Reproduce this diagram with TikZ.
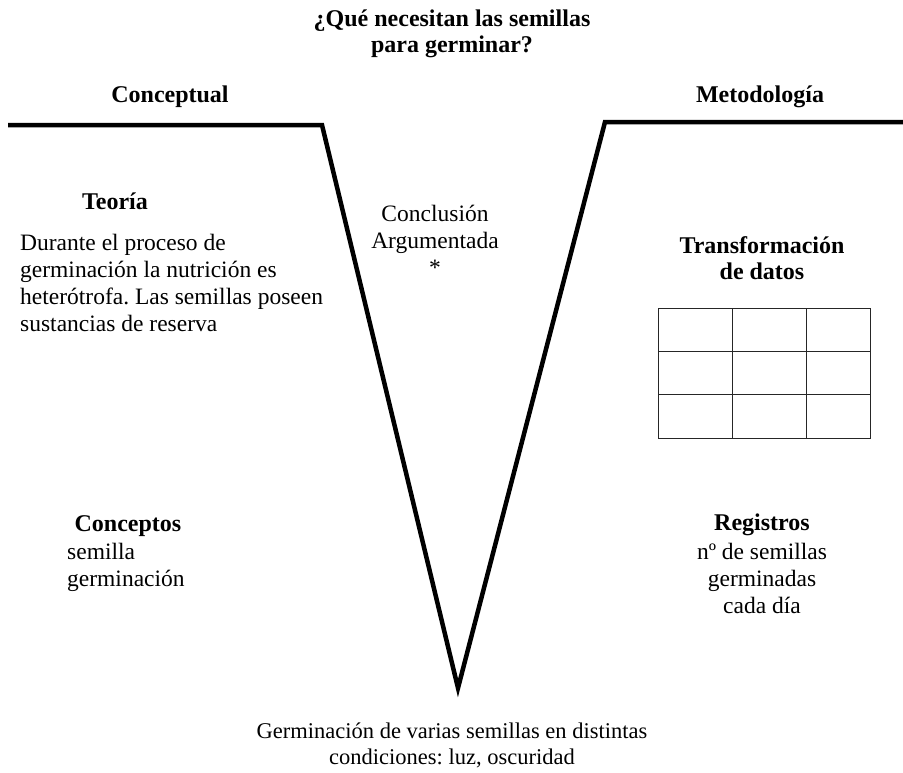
\documentclass[tikz,border=0pt]{standalone}
\usepackage{fontspec}
\setmainfont{Liberation Serif}
\frenchspacing
\begin{document}
\begin{tikzpicture}[
x=1pt,y=-1pt,
every node/.style={inner sep=0pt,font=\fontsize{23.5}{27}\selectfont},
heading/.style={font=\fontsize{24}{26}\selectfont\bfseries,align=center},
body/.style={align=left,anchor=west},
vline/.style={line width=4.5pt,line join=miter},
grid line/.style={line width=0.8pt,draw=black!85}
]
\useasboundingbox (0,0) rectangle (903,772);
% the V
\coordinate (tl) at (8,125);
\coordinate (cl) at (322,125);
\coordinate (bottom) at (458,688);
\coordinate (cr) at (605,122);
\coordinate (tr) at (903,122);
\draw[vline] (tl)--(cl)--(bottom)--(cr)--(tr);
% top
\node[heading] (question) at (452,34) {¿Qué necesitan las semillas\\para germinar?};
\node[heading] (conceptual) at (170,97) {Conceptual};
\node[heading] (metodo) at (760,97) {Metodología};
% left side
\node[heading] (teoria) at (115,201) {Teoría};
\node[body] (texto) at (20,283) {Durante el proceso de\\germinación la nutrición es\\heterótrofa. Las semillas poseen\\sustancias de reserva};
\node[heading] (conceptos) at (128,526) {Conceptos};
\node[body] (lista) at (67,567) {semilla\\germinación};
% middle
\node[align=center] (conclusion) at (435,240) {Conclusión\\Argumentada\\*};
\node[align=center,font=\fontsize{22.5}{26}\selectfont] (acontec) at (452,745) {Germinación de varias semillas en distintas\\condiciones: luz, oscuridad};
% right side
\node[heading] (transf) at (762,258) {Transformación\\de datos};
\draw[grid line] (658,308) rectangle (870,438);
\foreach \gx in {732,806}
	\draw[grid line] (\gx,308)--(\gx,438);
\foreach \gy in {351,394}
	\draw[grid line] (658,\gy)--(870,\gy);
\node[heading] (registros) at (762,525) {Registros};
\node[align=center] (datos) at (762,578) {nº de semillas\\germinadas\\cada día};
\end{tikzpicture}
\end{document}
